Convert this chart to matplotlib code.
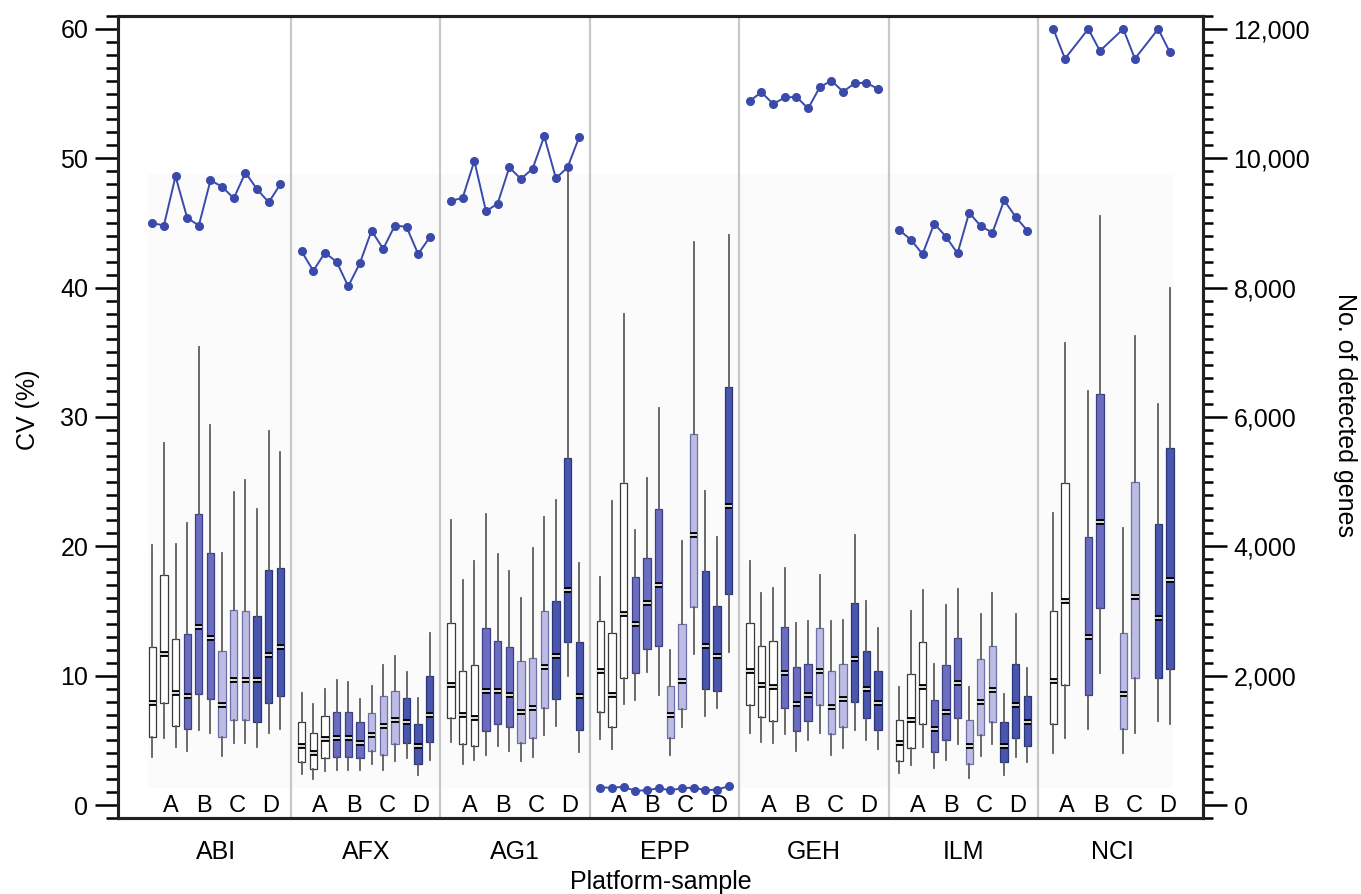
"""CV по платформам и образцам (боксплоты) + число детектированных генов (линия, правая ось)."""
import matplotlib.pyplot as plt
from matplotlib.patches import Rectangle
from matplotlib.ticker import FuncFormatter, MultipleLocator

plt.rcParams["font.family"] = ["Liberation Sans", "DejaVu Sans"]

PLATFORMS = ["ABI", "AFX", "AG1", "EPP", "GEH", "ILM", "NCI"]
SAMPLES = ["A", "B", "C", "D"]

# (нижний ус, Q1, медиана, Q3, верхний ус) — по 3 реплики на образец (NCI — по 2)
ABI = [(3.7, 5.3, 7.9, 12.2, 20.1), (5.2, 7.9, 11.7, 17.8, 28.0), (4.5, 6.1, 8.7, 12.8, 20.2),
       (4.2, 5.9, 8.4, 13.2, 21.8), (5.8, 8.6, 13.8, 22.5, 35.4), (5.6, 8.2, 12.9, 19.5, 29.4),
       (3.8, 5.3, 7.7, 11.9, 19.5), (4.8, 6.6, 9.7, 15.1, 24.2), (4.8, 6.6, 9.7, 15.0, 25.1),
       (4.5, 6.4, 9.7, 14.6, 22.9), (5.6, 7.9, 11.6, 18.2, 28.9), (5.9, 8.4, 12.2, 18.3, 27.3)]
AFX = [(2.4, 3.3, 4.6, 6.4, 8.7), (2.0, 2.8, 4.0, 5.6, 7.8), (2.6, 3.6, 5.1, 6.9, 9.0),
       (2.7, 3.7, 5.2, 7.2, 9.7), (2.7, 3.7, 5.2, 7.2, 9.5), (2.7, 3.6, 4.8, 6.4, 8.2),
       (3.2, 4.2, 5.4, 7.1, 9.2), (2.7, 3.9, 6.1, 8.4, 10.8), (3.4, 4.7, 6.6, 8.8, 11.5),
       (3.6, 4.8, 6.4, 8.3, 10.3), (2.3, 3.2, 4.6, 6.3, 8.3), (3.5, 4.9, 7.0, 10.0, 13.3)]
AG1 = [(4.9, 6.7, 9.3, 14.1, 22.0), (3.2, 4.7, 7.0, 10.4, 17.4), (3.5, 4.6, 6.7, 10.8, 18.9),
       (3.9, 5.7, 8.8, 13.7, 22.5), (4.6, 6.3, 8.8, 12.7, 19.4), (4.2, 6.0, 8.5, 12.2, 18.1),
       (3.4, 4.8, 7.2, 11.1, 16.0), (3.7, 5.2, 7.5, 11.4, 19.9), (5.4, 7.5, 10.7, 15.0, 22.3),
       (6.1, 8.2, 11.5, 15.8, 23.6), (10.0, 12.6, 16.6, 26.8, 48.9), (4.1, 5.8, 8.4, 12.6, 18.7)]
EPP = [(5.1, 7.2, 10.4, 14.2, 17.6), (4.3, 6.0, 8.5, 13.3, 23.5), (7.8, 9.8, 14.8, 24.9, 38.0),
       (8.1, 10.2, 14.0, 17.6, 21.3), (10.3, 12.1, 15.6, 19.1, 25.3), (8.5, 12.3, 17.0, 22.9, 30.7),
       (3.9, 5.2, 7.0, 9.2, 12.0), (6.0, 7.4, 9.6, 14.0, 20.4), (11.7, 15.3, 20.9, 28.7, 43.5),
       (6.9, 9.0, 12.3, 18.1, 24.3), (7.5, 8.8, 11.5, 15.4, 20.7), (11.8, 16.3, 23.1, 32.3, 44.1)]
GEH = [(5.6, 7.7, 10.4, 14.1, 18.9), (4.9, 6.8, 9.3, 12.3, 16.4), (4.8, 6.5, 9.1, 12.7, 16.8),
       (5.5, 7.5, 10.2, 13.8, 18.3), (4.2, 5.7, 7.8, 10.7, 14.1), (5.0, 6.5, 8.5, 10.9, 14.2),
       (5.6, 7.7, 10.4, 13.7, 17.8), (3.9, 5.5, 7.6, 10.4, 14.2), (4.4, 6.0, 8.2, 10.9, 14.3),
       (5.8, 8.0, 11.3, 15.6, 20.9), (5.0, 6.7, 9.0, 11.9, 15.8), (4.3, 5.8, 7.9, 10.4, 13.7)]
ILM = [(2.5, 3.4, 4.8, 6.6, 9.1), (3.1, 4.4, 6.6, 10.1, 15.0), (4.5, 6.3, 9.1, 12.6, 16.6),
       (2.9, 4.1, 5.9, 8.1, 10.9), (3.5, 5.0, 7.2, 10.8, 15.5), (4.7, 6.7, 9.4, 12.9, 16.7),
       (2.1, 3.2, 4.6, 6.6, 9.1), (3.8, 5.4, 8.0, 11.3, 14.8), (4.7, 6.4, 8.9, 12.3, 16.4),
       (2.3, 3.3, 4.6, 6.4, 8.6), (3.7, 5.2, 7.7, 10.9, 14.8), (3.3, 4.6, 6.4, 8.4, 10.6)]
NCI = [(4.0, 6.3, 9.6, 15.0, 22.6), (5.2, 9.3, 15.8, 24.9, 35.7),
       (5.9, 8.5, 13.0, 20.7, 32.0), (10.2, 15.2, 21.9, 31.8, 45.5),
       (4.0, 5.9, 8.6, 13.3, 21.4), (5.6, 9.8, 16.1, 25.0, 36.3),
       (6.5, 9.8, 14.5, 21.7, 31.0), (6.3, 10.5, 17.4, 27.6, 40.0)]

# число детектированных генов, в том же порядке, что и боксы
ABI_GENES = [9000, 8960, 9720, 9080, 8960, 9660, 9560, 9380, 9780, 9520, 9320, 9600]
AFX_GENES = [8560, 8260, 8540, 8400, 8020, 8380, 8880, 8600, 8960, 8940, 8520, 8780]
AG1_GENES = [9340, 9390, 9960, 9180, 9300, 9860, 9680, 9840, 10340, 9690, 9860, 10330]
EPP_GENES = [270, 270, 280, 220, 230, 260, 230, 260, 270, 230, 240, 290]
GEH_GENES = [10890, 11020, 10840, 10940, 10950, 10770, 11100, 11200, 11030, 11160, 11170, 11070]
ILM_GENES = [8890, 8740, 8520, 8990, 8790, 8530, 9160, 8950, 8850, 9350, 9090, 8880]
NCI_GENES = [12000, 11540, 12000, 11660, 12000, 11540, 12000, 11640]

BOXES = [ABI, AFX, AG1, EPP, GEH, ILM, NCI]
GENES = [ABI_GENES, AFX_GENES, AG1_GENES, EPP_GENES, GEH_GENES, ILM_GENES, NCI_GENES]

FILL = {"A": "white", "B": "#6b6ec0", "C": "#bcbce5", "D": "#4856ae"}
EDGE = {"A": "#3a3a3a", "B": "#3c3f86", "C": "#6f6fa8", "D": "#2c3578"}
LINE = "#3a4aab"
STEP = 0.078      # шаг между боксами внутри платформы
WIDTH = 0.049

fig = plt.figure(figsize=(13.61, 8.94), dpi=100)
ax = fig.add_axes([118 / 1361, 76 / 894, 1085 / 1361, 802 / 894])
ax2 = ax.twinx()

ax.add_patch(Rectangle((-0.46, 1.3), 6.86, 47.5, facecolor="#fbfbfb", edgecolor="none", zorder=-2))
for i in range(len(PLATFORMS) - 1):
    ax.axvline(i + 0.5, color="#c8c8c8", lw=1.6, zorder=-1)

for i, (boxes, genes) in enumerate(zip(BOXES, GENES)):
    reps = len(boxes) // len(SAMPLES)
    shift = 0.0 if reps == 3 else 0.4
    positions, samples = [], []
    for k in range(len(boxes)):
        g, r = divmod(k, reps)
        positions.append(i + (g * 3 + r + shift - 5.5) * STEP)
        samples.append(SAMPLES[g])

    stats = [dict(whislo=lo, q1=q1, med=md, q3=q3, whishi=hi, fliers=[])
             for lo, q1, md, q3, hi in boxes]
    art = ax.bxp(stats, positions=positions, widths=WIDTH, patch_artist=True,
                 showcaps=False, showfliers=False, manage_ticks=False,
                 whiskerprops=dict(color="#5e5e5e", lw=1.3),
                 medianprops=dict(color="black", lw=4.2, solid_capstyle="butt", zorder=3),
                 boxprops=dict(lw=0.9))
    for patch, s in zip(art["boxes"], samples):
        patch.set_facecolor(FILL[s])
        patch.set_edgecolor(EDGE[s])
    meds = [b[2] for b in boxes]
    ax.hlines(meds, [p - WIDTH / 2 for p in positions], [p + WIDTH / 2 for p in positions],
              color="white", lw=1.2, zorder=4)

    for g, s in enumerate(SAMPLES):
        ax.text(i + 0.03 + (g - 1.5) * 0.223, -0.55, s, ha="center", va="baseline", fontsize=17)

    ax2.plot(positions, genes, color=LINE, lw=1.4, marker="o", ms=5.5, zorder=5)

ax.set_xlim(-0.658, 6.604)
ax.set_ylim(-1, 61)
ax.set_xticks(range(len(PLATFORMS)), PLATFORMS)
ax.yaxis.set_major_locator(MultipleLocator(10))
ax.yaxis.set_minor_locator(MultipleLocator(1))
ax.tick_params(axis="x", length=0, pad=16, labelsize=18)
ax.tick_params(axis="y", which="major", length=16.5, width=1.8, pad=5, labelsize=18)
ax.tick_params(axis="y", which="minor", length=8.5, width=1.8)

ax2.set_ylim(-200, 12200)
ax2.yaxis.set_major_locator(MultipleLocator(2000))
ax2.yaxis.set_minor_locator(MultipleLocator(200))
ax2.yaxis.set_major_formatter(FuncFormatter(lambda v, _: f"{v:,.0f}"))
ax2.tick_params(axis="y", which="major", length=17, width=1.8, pad=5, labelsize=18)
ax2.tick_params(axis="y", which="minor", length=7.5, width=1.8)

for a in (ax, ax2):
    for sp in a.spines.values():
        sp.set_linewidth(2.2)
        sp.set_color("#222222")

fig.text(28 / 1361, 1 - 410 / 894, "CV (%)", rotation=90, ha="center", va="center", fontsize=18)
fig.text(1345 / 1361, 1 - 415 / 894, "No. of detected genes", rotation=270,
         ha="center", va="center", fontsize=18)
fig.text(661 / 1361, 1 - 882 / 894, "Platform-sample", ha="center", va="center", fontsize=18)

fig.savefig("out.png", dpi=100)
plt.close(fig)
